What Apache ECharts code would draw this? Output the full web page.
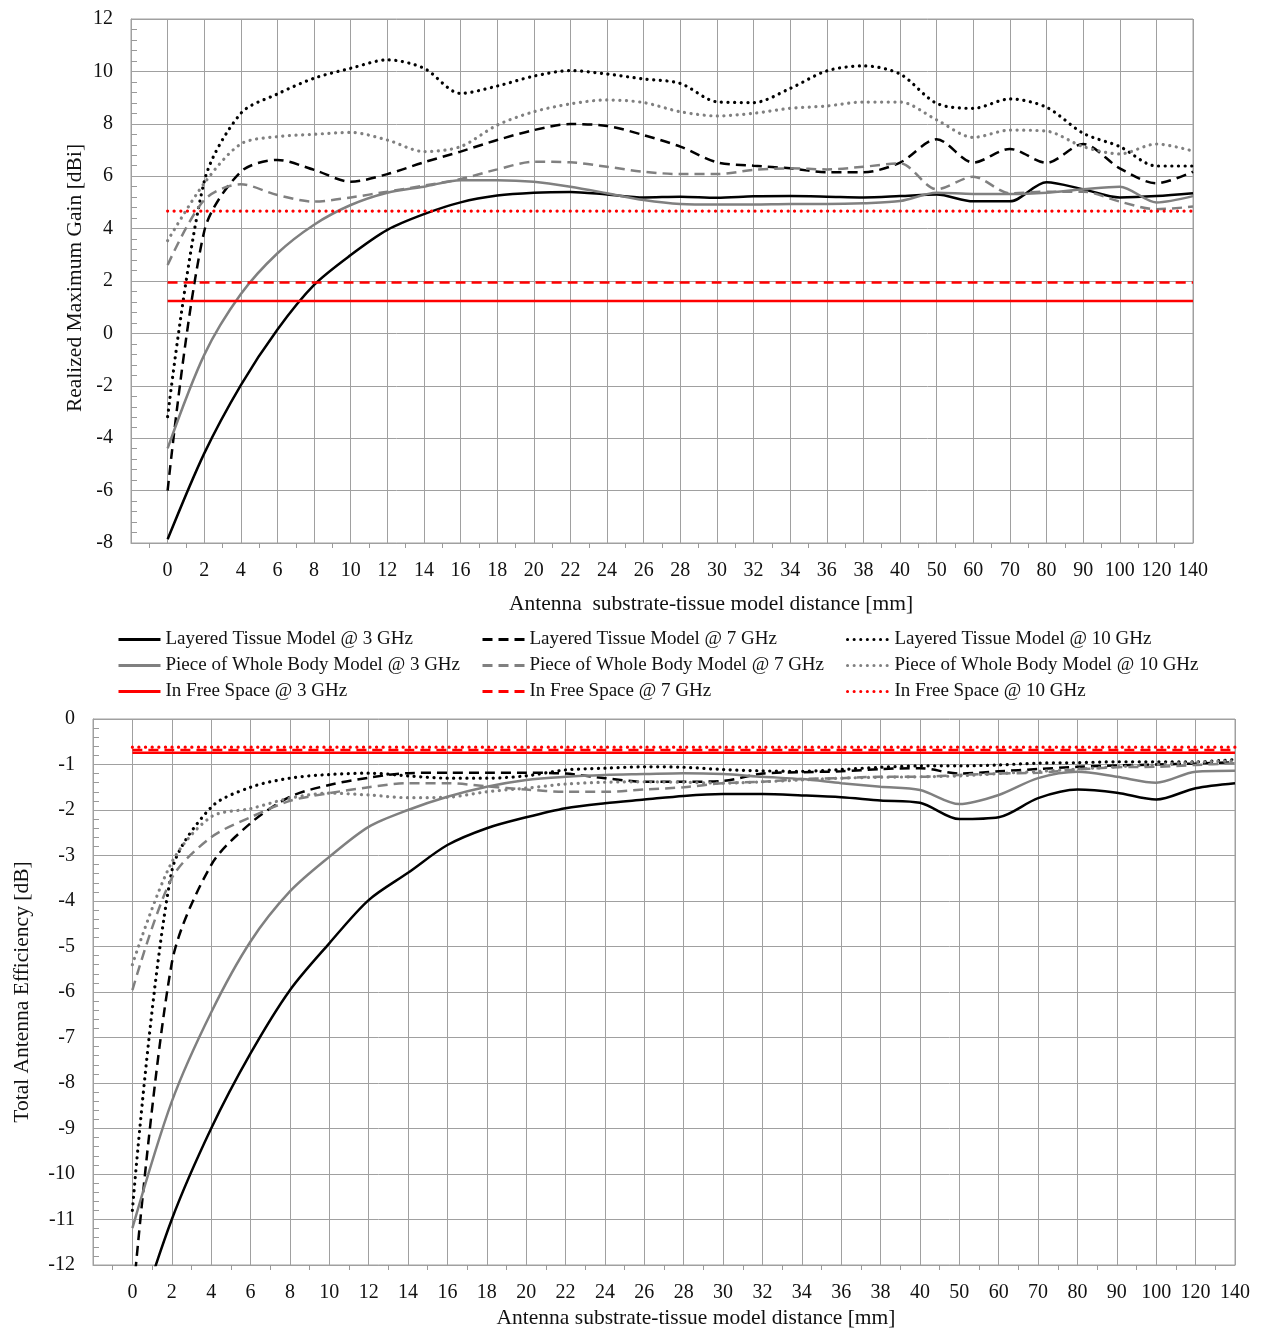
<!DOCTYPE html>
<html>
<head>
<meta charset="utf-8">
<script src="https://cdn.jsdelivr.net/npm/echarts@6/dist/echarts.min.js"></script>
<style>
  html, body { margin: 0; padding: 0; background: #fff; }
  #chart { width: 1264px; height: 1330px; }
</style>
</head>
<body>
<div id="chart"></div>
<script>
// ---------- Data ----------
const xLabels = ['0','2','4','6','8','10','12','14','16','18','20','22','24','26','28','30','32','34','36','38','40','50','60','70','80','90','100','120','140'];

const seriesNames = [
  'Layered Tissue Model @ 3 GHz', 'Layered Tissue Model @ 7 GHz', 'Layered Tissue Model @ 10 GHz',
  'Piece of Whole Body Model @ 3 GHz', 'Piece of Whole Body Model @ 7 GHz', 'Piece of Whole Body Model @ 10 GHz',
  'In Free Space @ 3 GHz', 'In Free Space @ 7 GHz', 'In Free Space @ 10 GHz'
];

// Top chart: Realized Maximum Gain [dBi]
const gainL3 = [-7.86, -4.58, -1.97, 0.15, 1.85, 2.99, 3.95, 4.55, 5.0, 5.26, 5.37, 5.4, 5.3, 5.19, 5.22, 5.18, 5.23, 5.24, 5.22, 5.19, 5.24, 5.3, 5.04, 5.04, 5.77, 5.5, 5.19, 5.24, 5.35];
const gainL7 = [-6.0, 3.9, 6.17, 6.62, 6.24, 5.79, 6.08, 6.53, 6.94, 7.38, 7.76, 7.99, 7.92, 7.57, 7.13, 6.53, 6.4, 6.3, 6.15, 6.15, 6.52, 7.41, 6.52, 7.04, 6.51, 7.23, 6.3, 5.73, 6.17];
const gainL10 = [-3.18, 5.8, 8.4, 9.14, 9.74, 10.12, 10.44, 10.12, 9.16, 9.44, 9.82, 10.03, 9.9, 9.71, 9.54, 8.84, 8.81, 9.35, 10.02, 10.21, 9.9, 8.78, 8.59, 8.95, 8.63, 7.64, 7.13, 6.39, 6.39];
const gainP3 = [-4.39, -0.82, 1.5, 3.06, 4.15, 4.9, 5.37, 5.6, 5.85, 5.85, 5.79, 5.6, 5.35, 5.09, 4.94, 4.92, 4.92, 4.94, 4.94, 4.97, 5.05, 5.37, 5.32, 5.32, 5.37, 5.5, 5.6, 5.0, 5.24];
const gainP7 = [2.61, 5.09, 5.69, 5.28, 5.03, 5.19, 5.41, 5.64, 5.89, 6.26, 6.55, 6.53, 6.36, 6.17, 6.08, 6.08, 6.24, 6.3, 6.26, 6.36, 6.49, 5.5, 5.98, 5.35, 5.41, 5.41, 5.03, 4.74, 4.84];
const gainP10 = [3.54, 5.73, 7.23, 7.51, 7.6, 7.67, 7.38, 6.94, 7.13, 7.95, 8.46, 8.76, 8.91, 8.81, 8.46, 8.3, 8.4, 8.59, 8.68, 8.83, 8.83, 8.15, 7.48, 7.76, 7.72, 7.13, 6.85, 7.23, 6.96];
const gainF3 = [1.24, 1.24, 1.24, 1.24, 1.24, 1.24, 1.24, 1.24, 1.24, 1.24, 1.24, 1.24, 1.24, 1.24, 1.24, 1.24, 1.24, 1.24, 1.24, 1.24, 1.24, 1.24, 1.24, 1.24, 1.24, 1.24, 1.24, 1.24, 1.24];
const gainF7 = [1.94, 1.94, 1.94, 1.94, 1.94, 1.94, 1.94, 1.94, 1.94, 1.94, 1.94, 1.94, 1.94, 1.94, 1.94, 1.94, 1.94, 1.94, 1.94, 1.94, 1.94, 1.94, 1.94, 1.94, 1.94, 1.94, 1.94, 1.94, 1.94];
const gainF10 = [4.67, 4.67, 4.67, 4.67, 4.67, 4.67, 4.67, 4.67, 4.67, 4.67, 4.67, 4.67, 4.67, 4.67, 4.67, 4.67, 4.67, 4.67, 4.67, 4.67, 4.67, 4.67, 4.67, 4.67, 4.67, 4.67, 4.67, 4.67, 4.67];

// Bottom chart: Total Antenna Efficiency [dB]
const effL3 = [-13.6, -11.0, -9.0, -7.35, -5.96, -4.93, -3.98, -3.38, -2.77, -2.4, -2.16, -1.96, -1.85, -1.77, -1.69, -1.65, -1.65, -1.68, -1.72, -1.79, -1.84, -2.2, -2.16, -1.74, -1.55, -1.62, -1.77, -1.52, -1.41];
const effL7 = [-12.85, -5.37, -3.21, -2.29, -1.71, -1.45, -1.29, -1.19, -1.18, -1.18, -1.18, -1.2, -1.3, -1.38, -1.38, -1.36, -1.2, -1.17, -1.15, -1.1, -1.08, -1.2, -1.15, -1.1, -1.05, -1.02, -1.0, -0.98, -0.95];
const effL10 = [-10.8, -3.35, -1.94, -1.5, -1.3, -1.22, -1.19, -1.25, -1.3, -1.3, -1.25, -1.12, -1.08, -1.05, -1.06, -1.11, -1.14, -1.15, -1.11, -1.06, -1.03, -1.03, -1.01, -0.97, -0.96, -0.94, -0.94, -0.94, -0.89];
const effP3 = [-11.19, -8.41, -6.45, -4.89, -3.79, -3.03, -2.37, -2.0, -1.71, -1.49, -1.34, -1.27, -1.23, -1.21, -1.19, -1.21, -1.27, -1.32, -1.41, -1.49, -1.56, -1.87, -1.67, -1.3, -1.16, -1.27, -1.4, -1.16, -1.14];
const effP7 = [-5.96, -3.5, -2.6, -2.16, -1.8, -1.63, -1.5, -1.41, -1.41, -1.48, -1.55, -1.6, -1.6, -1.55, -1.5, -1.41, -1.38, -1.32, -1.3, -1.27, -1.27, -1.23, -1.2, -1.18, -1.11, -1.06, -1.05, -1.01, -0.97];
const effP10 = [-5.4, -3.15, -2.15, -1.97, -1.74, -1.63, -1.67, -1.73, -1.72, -1.6, -1.52, -1.43, -1.39, -1.38, -1.39, -1.41, -1.38, -1.34, -1.3, -1.28, -1.27, -1.25, -1.2, -1.15, -1.1, -1.05, -1.0, -0.95, -0.92];
const effF3 = [-0.74, -0.74, -0.74, -0.74, -0.74, -0.74, -0.74, -0.74, -0.74, -0.74, -0.74, -0.74, -0.74, -0.74, -0.74, -0.74, -0.74, -0.74, -0.74, -0.74, -0.74, -0.74, -0.74, -0.74, -0.74, -0.74, -0.74, -0.74, -0.74];
const effF7 = [-0.68, -0.68, -0.68, -0.68, -0.68, -0.68, -0.68, -0.68, -0.68, -0.68, -0.68, -0.68, -0.68, -0.68, -0.68, -0.68, -0.68, -0.68, -0.68, -0.68, -0.68, -0.68, -0.68, -0.68, -0.68, -0.68, -0.68, -0.68, -0.68];
const effF10 = [-0.62, -0.62, -0.62, -0.62, -0.62, -0.62, -0.62, -0.62, -0.62, -0.62, -0.62, -0.62, -0.62, -0.62, -0.62, -0.62, -0.62, -0.62, -0.62, -0.62, -0.62, -0.62, -0.62, -0.62, -0.62, -0.62, -0.62, -0.62, -0.62];

// ---------- Styling ----------
const FONT = '"Liberation Serif", "Times New Roman", serif';
const GRID_COLOR = '#a0a0a0';
const TXT = '#111';

const colors = ['#000000', '#000000', '#000000', '#808080', '#808080', '#808080', '#ff0000', '#ff0000', '#ff0000'];
const dashes = ['solid', [10, 6], [0.1, 6.5], 'solid', [10, 6], [0.1, 6.5], 'solid', [10, 6], [0.1, 6.5]];

function xAxisCfg(gridIndex) {
  return {
    type: 'value', gridIndex: gridIndex, min: -1, max: 28, interval: 1,
    axisLine: { show: true, onZero: false, lineStyle: { color: GRID_COLOR, width: 1 } },
    axisTick: { show: false },
    minorTick: { show: true, splitNumber: 2, length: 5, lineStyle: { color: '#999', width: 1 } },
    minorSplitLine: { show: false },
    splitLine: { show: true, lineStyle: { color: GRID_COLOR, width: 1 } },
    axisLabel: {
      formatter: function (v) { return xLabels[v] !== undefined ? xLabels[v] : ''; },
      color: TXT, fontFamily: FONT, fontSize: 20, margin: 18,
      showMinLabel: true, showMaxLabel: true
    }
  };
}

function yAxisCfg(gridIndex, min, max, interval) {
  return {
    type: 'value', gridIndex: gridIndex, min: min, max: max, interval: interval,
    axisLine: { show: true, onZero: false, lineStyle: { color: GRID_COLOR, width: 1 } },
    axisTick: { show: false, inside: true },
    minorTick: { show: true, splitNumber: 5, length: 6, lineStyle: { color: '#999', width: 1 } },
    minorSplitLine: { show: false },
    splitLine: { show: true, lineStyle: { color: GRID_COLOR, width: 1 } },
    axisLabel: { color: TXT, fontFamily: FONT, fontSize: 20, margin: 18 }
  };
}

const topData = [gainL3, gainL7, gainL10, gainP3, gainP7, gainP10, gainF3, gainF7, gainF10];
const botData = [effL3, effL7, effL10, effP3, effP7, effP10, effF3, effF7, effF10];

function makeSeries(values, k, axisIndex) {
  const isDot = Array.isArray(dashes[k]) && dashes[k][0] < 1;
  return {
    name: seriesNames[k],
    type: 'line',
    xAxisIndex: axisIndex, yAxisIndex: axisIndex,
    data: values.map(function (v, i) { return [i, v]; }),
    smooth: 0.3,
    symbol: 'none',
    showSymbol: false,
    clip: true,
    silent: true,
    animation: false,
    lineStyle: {
      color: colors[k],
      width: isDot ? 3.2 : 2.5,
      type: dashes[k],
      cap: isDot ? 'round' : 'butt'
    },
    itemStyle: { color: colors[k] }
  };
}

const series = [];
topData.forEach(function (d, k) { series.push(makeSeries(d, k, 0)); });
botData.forEach(function (d, k) { series.push(makeSeries(d, k, 1)); });

function legendCol(left, names) {
  return {
    left: left, top: 625, orient: 'vertical',
    itemWidth: 42, itemHeight: 14, itemGap: 7,
    selectedMode: false,
    data: names,
    itemStyle: { color: 'transparent', borderColor: 'transparent', borderWidth: 0, opacity: 0 },
    lineStyle: { width: 3 },
    textStyle: { color: TXT, fontFamily: FONT, fontSize: 19 }
  };
}

function axisTitle(text, x, y, rotated) {
  return {
    type: 'text', x: x, y: y, rotation: rotated ? Math.PI / 2 : 0,
    style: { text: text, font: '21.5px ' + FONT, fill: TXT, align: 'center', verticalAlign: 'middle' }
  };
}

const option = {
  backgroundColor: '#ffffff',
  animation: false,
  grid: [
    { left: 131, top: 19, right: 71, height: 524, show: true, borderColor: GRID_COLOR, borderWidth: 1, containLabel: false },
    { left: 93, top: 719, right: 29, height: 546, show: true, borderColor: GRID_COLOR, borderWidth: 1, containLabel: false }
  ],
  xAxis: [xAxisCfg(0), xAxisCfg(1)],
  yAxis: [
    yAxisCfg(0, -8, 12, 2),
    yAxisCfg(1, -12, 0, 1)
  ],
  legend: [
    legendCol(112, [seriesNames[0], seriesNames[3], seriesNames[6]]),
    legendCol(476, [seriesNames[1], seriesNames[4], seriesNames[7]]),
    legendCol(841, [seriesNames[2], seriesNames[5], seriesNames[8]])
  ],
  graphic: [
    axisTitle('Antenna  substrate-tissue model distance [mm]', 711, 604, false),
    axisTitle('Antenna substrate-tissue model distance [mm]', 696, 1318, false),
    axisTitle('Realized Maximum Gain [dBi]', 75, 278, true),
    axisTitle('Total Antenna Efficiency [dB]', 22, 992, true)
  ],
  series: series
};

const chart = echarts.init(document.getElementById('chart'), null, { renderer: 'canvas' });
chart.setOption(option);
</script>
</body>
</html>
